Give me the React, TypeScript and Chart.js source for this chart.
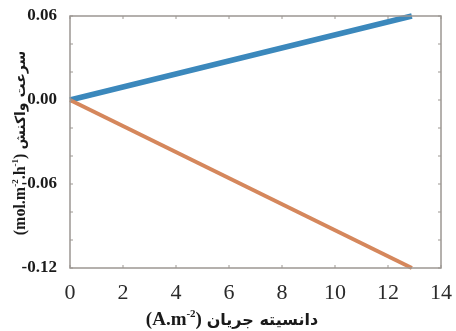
import React, { useEffect, useRef } from "react";
import { Chart, registerables } from "chart.js";

Chart.register(...registerables);

const xValues = [0, 12.9];
const blueRate = [0, 0.06];
const orangeRate = [0, -0.12];
const xTickStep = 2;
const yTickStep = 0.02;
const yLabelled = ["0.06", "0.00", "-0.06", "-0.12"];

const frameColor = "#9c9792";

type Piece = { text: string; font: string; dy?: number; rtl?: boolean };

function measure(ctx: CanvasRenderingContext2D, pieces: Piece[]) {
  let w = 0;
  for (const p of pieces) {
    ctx.font = p.font;
    w += ctx.measureText(p.text).width;
  }
  return w;
}

function drawPieces(ctx: CanvasRenderingContext2D, pieces: Piece[], x: number, y: number) {
  let cx = x;
  for (const p of pieces) {
    ctx.font = p.font;
    ctx.direction = p.rtl ? "rtl" : "ltr";
    ctx.textAlign = "left";
    ctx.textBaseline = "alphabetic";
    const w = ctx.measureText(p.text).width;
    ctx.fillText(p.text, cx, y + (p.dy || 0));
    cx += w;
  }
}

const framePlugin = {
  id: "framePlugin",
  afterDraw(chart: any) {
    const { ctx, chartArea } = chart;
    const { left, right, top, bottom } = chartArea;
    const xs = chart.scales.x;
    const ys = chart.scales.y;
    ctx.save();
    ctx.strokeStyle = frameColor;
    ctx.lineWidth = 1.5;
    ctx.strokeRect(left, top, right - left, bottom - top);
    ctx.lineWidth = 1;
    for (const t of xs.ticks) {
      const px = xs.getPixelForValue(t.value);
      ctx.beginPath();
      ctx.moveTo(px, bottom);
      ctx.lineTo(px, bottom - 3);
      ctx.moveTo(px, top);
      ctx.lineTo(px, top + 3);
      ctx.stroke();
    }
    for (const t of ys.ticks) {
      const py = ys.getPixelForValue(t.value);
      ctx.beginPath();
      ctx.moveTo(left, py);
      ctx.lineTo(left + 3, py);
      ctx.moveTo(right, py);
      ctx.lineTo(right - 3, py);
      ctx.stroke();
    }

    // x axis title
    ctx.fillStyle = "#1a1a1a";
    const xPieces: Piece[] = [
      { text: "(A.m", font: "bold 19px 'Liberation Serif', serif" },
      { text: "-2", font: "bold 11px 'Liberation Serif', serif", dy: -8 },
      { text: ") ", font: "bold 19px 'Liberation Serif', serif" },
      { text: "دانسیته جریان", font: "bold 16px 'DejaVu Sans', sans-serif", rtl: true },
    ];
    const xw = measure(ctx, xPieces);
    drawPieces(ctx, xPieces, 232 - xw / 2, 325);

    // y axis title
    const yPieces: Piece[] = [
      { text: "(mol.m", font: "bold 16px 'Liberation Serif', serif" },
      { text: "-2", font: "bold 9px 'Liberation Serif', serif", dy: -7 },
      { text: ".h", font: "bold 16px 'Liberation Serif', serif" },
      { text: "-1", font: "bold 9px 'Liberation Serif', serif", dy: -7 },
      { text: ") ", font: "bold 16px 'Liberation Serif', serif" },
      { text: "سرعت واکنش", font: "bold 14px 'DejaVu Sans', sans-serif", rtl: true },
    ];
    const yw = measure(ctx, yPieces);
    ctx.translate(25, 143);
    ctx.rotate(-Math.PI / 2);
    drawPieces(ctx, yPieces, -yw / 2, 0);
    ctx.restore();
  },
};

export default function App() {
  const ref = useRef<HTMLCanvasElement | null>(null);
  useEffect(() => {
    if (!ref.current) return;
    const chart = new Chart(ref.current, {
      type: "scatter",
      data: {
        datasets: [
          {
            data: xValues.map((x, i) => ({ x, y: orangeRate[i] })),
            showLine: true,
            borderColor: "#d5875c",
            borderWidth: 4,
            pointRadius: 0,
            clip: false as any,
          },
          {
            data: xValues.map((x, i) => ({ x, y: blueRate[i] })),
            showLine: true,
            borderColor: "#3b88bc",
            borderWidth: 5.5,
            pointRadius: 0,
            clip: false as any,
          },
        ],
      },
      options: {
        responsive: false,
        animation: false,
        layout: { padding: { top: 16, right: 13, left: 0, bottom: 0 } },
        plugins: { legend: { display: false }, tooltip: { enabled: false } },
        scales: {
          x: {
            type: "linear",
            min: 0,
            max: 14,
            grid: { display: false },
            border: { display: false },
            ticks: {
              stepSize: xTickStep,
              padding: 4,
              color: "#2a2a2a",
              font: { family: "'Liberation Serif', serif", size: 22 },
              maxRotation: 0,
            },
            afterFit: (s: any) => {
              s.height = 63;
            },
          },
          y: {
            type: "linear",
            min: -0.12,
            max: 0.06,
            grid: { display: false },
            border: { display: false },
            ticks: {
              stepSize: yTickStep,
              padding: 5,
              color: "#1a1a1a",
              font: { family: "'Liberation Serif', serif", size: 17, weight: "bold" },
              autoSkip: false,
              callback: (v: any) => {
                const s = (Math.round(Number(v) * 100) / 100).toFixed(2);
                const t = s === "-0.00" ? "0.00" : s;
                return yLabelled.includes(t) ? t : "";
              },
            },
            afterFit: (s: any) => {
              s.width = 70;
            },
          },
        },
      },
      plugins: [framePlugin],
    });
    return () => chart.destroy();
  }, []);
  return (
    <div style={{ position: "absolute", left: 0, top: 0, width: 456, height: 331, background: "#fff" }}>
      <canvas ref={ref} width={456} height={331} style={{ display: "block" }} />
    </div>
  );
}
